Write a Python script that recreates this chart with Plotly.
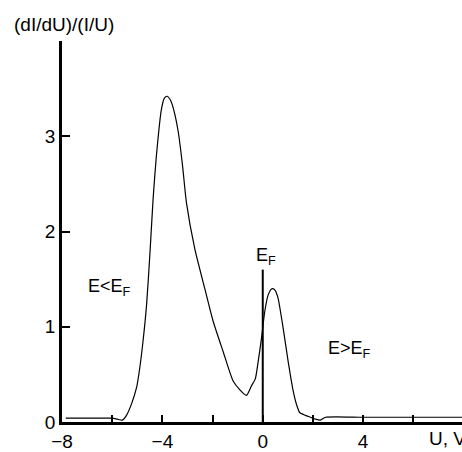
import plotly.graph_objects as go

# Curve data
u_vals = [-7.85, -7.0, -6.0, -5.8, -5.6, -5.43, -5.23, -5.03, -4.9, -4.77, -4.63, -4.5,
          -4.37, -4.24, -4.04, -3.92, -3.81, -3.68, -3.55, -3.37, -3.2, -3.04, -2.71,
          -2.31, -1.98, -1.58, -1.18, -0.92, -0.65, -0.45, -0.3, -0.19, -0.05, 0.08,
          0.21, 0.32, 0.41, 0.5, 0.61, 0.81, 1.01, 1.21, 1.35, 1.47, 1.7, 1.9, 2.1,
          2.3, 2.5, 4.0, 6.0, 8.0]
g_vals = [0.04, 0.04, 0.04, 0.03, 0.02, 0.07, 0.19, 0.36, 0.57, 0.85, 1.23, 1.75,
          2.34, 2.79, 3.28, 3.40, 3.42, 3.38, 3.28, 3.05, 2.70, 2.30, 1.82,
          1.40, 1.06, 0.74, 0.43, 0.34, 0.28, 0.38, 0.45, 0.62, 0.88, 1.16,
          1.33, 1.39, 1.40, 1.38, 1.30, 0.99, 0.64, 0.33, 0.18, 0.10, 0.07, 0.05, 0.03,
          0.02, 0.05, 0.05, 0.05, 0.05]

x_tickvals = [-8, -6, -4, -2, 0, 2, 4, 6]
x_ticktext = ["\u22128", "", "\u22124", "", "0", "", "4", ""]
y_tickvals = [0, 1, 2, 3, 4]
y_ticktext = ["0", "1", "2", "3", ""]

ef_x = 0.0
ef_top = 1.6

FONT = "Liberation Sans, Arial, sans-serif"
FS = 19

fig = go.Figure()
fig.add_trace(go.Scatter(x=u_vals, y=g_vals, mode="lines",
                         line=dict(color="black", width=1.2, shape="spline", smoothing=0.6),
                         showlegend=False, hoverinfo="skip"))

fig.add_shape(type="line", xref="x", yref="y", x0=ef_x, x1=ef_x, y0=0, y1=ef_top,
              line=dict(color="black", width=2))

annotations = [
    dict(text="E&lt;E<sub>F</sub>", x=-6.1, y=1.41, xref="x", yref="y"),
    dict(text="E<sub>F</sub>", x=0.14, y=1.74, xref="x", yref="y"),
    dict(text="E&gt;E<sub>F</sub>", x=3.47, y=0.76, xref="x", yref="y"),
]
for a in annotations:
    fig.add_annotation(text=a["text"], x=a["x"], y=a["y"], xref=a["xref"], yref=a["yref"],
                       showarrow=False, font=dict(family=FONT, size=FS - 1, color="black"))

fig.add_annotation(text="(dI/dU)/(I/U)", xref="paper", yref="paper", x=-0.125, y=1.042,
                   xanchor="left", yanchor="middle", showarrow=False,
                   font=dict(family=FONT, size=FS, color="black"))
fig.add_annotation(text="U, V", xref="x", yref="paper", x=6.53, y=-0.044,
                   xanchor="left", yanchor="middle", showarrow=False,
                   font=dict(family=FONT, size=FS, color="black"))

fig.update_layout(
    width=462, height=452,
    margin=dict(l=62, r=0, t=41, b=27),
    paper_bgcolor="white", plot_bgcolor="white",
    font=dict(family=FONT, size=FS, color="black"),
    xaxis=dict(range=[-8, 7.94], tickvals=x_tickvals, ticktext=x_ticktext,
               ticks="inside", ticklen=7, tickwidth=2, tickcolor="black",
               showline=True, linewidth=2.5, linecolor="black",
               showgrid=False, zeroline=False, fixedrange=True),
    yaxis=dict(range=[0, 4], tickvals=y_tickvals, ticktext=y_ticktext,
               ticks="inside", ticklen=8, tickwidth=2, tickcolor="black",
               showline=True, linewidth=2.5, linecolor="black",
               showgrid=False, zeroline=False, fixedrange=True),
)

fig.write_html("out.html")
